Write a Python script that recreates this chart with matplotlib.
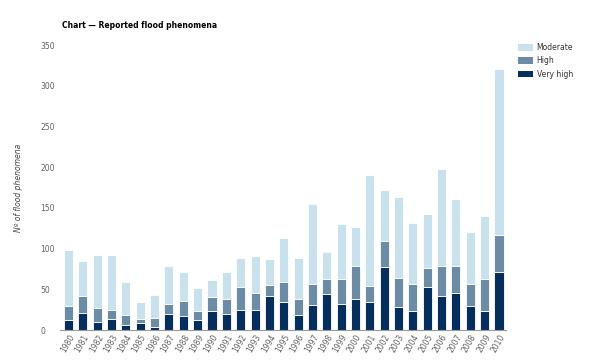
import numpy as np
from matplotlib import pyplot as plt
from matplotlib.patches import Patch

years = [str(y) for y in range(1980, 2011)]
very_high = [12, 21, 10, 13, 6, 9, 4, 20, 17, 12, 23, 20, 25, 25, 42, 35, 18, 31, 44, 32,
             38, 34, 77, 28, 23, 53, 42, 46, 29, 23, 71]
high_top = [30, 42, 27, 25, 18, 14, 15, 32, 36, 23, 40, 38, 53, 46, 55, 59, 38, 57, 63, 63,
            79, 54, 109, 64, 57, 76, 79, 78, 56, 63, 117]
totals = [98, 85, 92, 92, 59, 35, 43, 78, 71, 51, 62, 71, 88, 91, 87, 113, 89, 155, 96, 130,
          127, 190, 172, 163, 131, 142, 198, 161, 120, 140, 320]

vh = np.array(very_high)
hi = np.array(high_top) - vh
mo = np.array(totals) - np.array(high_top)

c_mod = "#c8e1ec"
c_high = "#6c8ba5"
c_vhigh = "#062e5c"
grey = "#606060"

plt.rcParams['font.family'] = ['DejaVu Sans']

fig = plt.figure(figsize=(5.99, 3.63), dpi=100)
ax = fig.add_axes([0.100, 0.0909, 0.745, 0.785])

x = np.arange(len(years))
w = 0.63
ax.bar(x, vh, w, color=c_vhigh, edgecolor="white", linewidth=0.6)
ax.bar(x, hi, w, bottom=vh, color=c_high, edgecolor="white", linewidth=0.6)
ax.bar(x, mo, w, bottom=vh + hi, color=c_mod, edgecolor="white", linewidth=0.6)

ax.set_xlim(-0.6, len(years) - 0.5)
ax.set_ylim(0, 350)
ax.set_yticks(range(0, 351, 50))
ax.set_xticks(x)
ax.set_xticklabels(years, rotation=60, ha="right", rotation_mode="anchor")
ax.tick_params(axis="both", labelsize=5.5, colors=grey, length=0)
ax.tick_params(axis="x", pad=2)
ax.tick_params(axis="y", pad=14)
for lab in ax.get_yticklabels():
    lab.set_horizontalalignment("left")

for s in ["top", "right", "left"]:
    ax.spines[s].set_visible(False)
ax.spines["bottom"].set_color("#9a9a9a")
ax.spines["bottom"].set_linewidth(0.8)

ax.set_ylabel("Nº of flood phenomena", fontsize=5.5, style="italic", color="#444444")
ax.yaxis.set_label_coords(-0.083, 0.5)

fig.text(0.1035, 0.923, "Chart — Reported flood phenomena", fontsize=5.5,
         fontweight="bold", color="black")

handles = [Patch(facecolor=c_mod), Patch(facecolor=c_high), Patch(facecolor=c_vhigh)]
fig.legend(handles, ["Moderate", "High", "Very high"], loc="upper left",
           bbox_to_anchor=(0.853, 0.90), frameon=False, fontsize=5.5,
           handlelength=2.0, handleheight=1.0, handletextpad=0.45, labelspacing=0.55,
           labelcolor="#333333")

fig.savefig("out.png", dpi=100)
